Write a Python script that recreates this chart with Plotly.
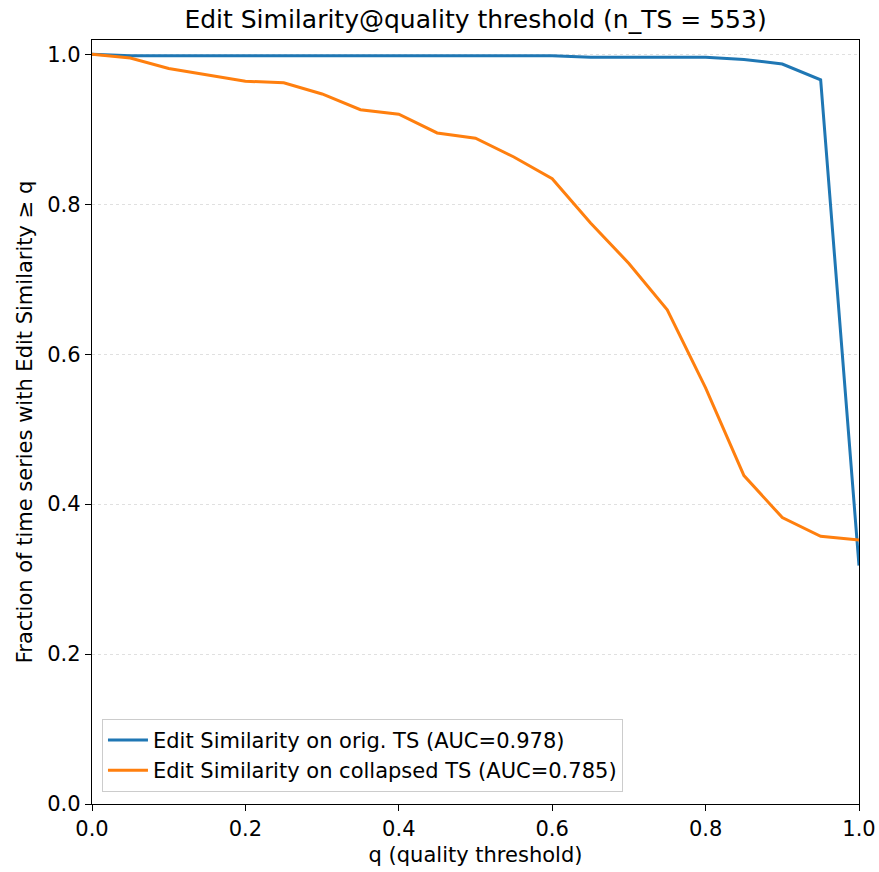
import plotly.graph_objects as go

# Quality thresholds q and fraction of series with Edit Similarity >= q
q = [0.0, 0.05, 0.1, 0.15, 0.2, 0.25, 0.3, 0.35, 0.4, 0.45, 0.5,
     0.55, 0.6, 0.65, 0.7, 0.75, 0.8, 0.85, 0.9, 0.95, 1.0]
orig_ts = [1.0, 0.998, 0.998, 0.998, 0.998, 0.998, 0.998, 0.998, 0.998, 0.998, 0.998,
           0.998, 0.998, 0.996, 0.996, 0.996, 0.996, 0.993, 0.987, 0.966, 0.318]
collapsed_ts = [1.0, 0.995, 0.981, 0.973, 0.964, 0.962, 0.947, 0.926, 0.920, 0.895, 0.888,
                0.863, 0.834, 0.775, 0.721, 0.659, 0.555, 0.438, 0.382, 0.357, 0.352]
series_names = ["Edit Similarity on orig. TS (AUC=0.978)",
                "Edit Similarity on collapsed TS (AUC=0.785)"]
series_colors = ["#1f77b4", "#ff7f0e"]
ticks = [0.0, 0.2, 0.4, 0.6, 0.8, 1.0]

FONT = "DejaVu Sans"

fig = go.Figure()
for name, ys, color in zip(series_names, [orig_ts, collapsed_ts], series_colors):
    fig.add_trace(go.Scatter(x=q, y=ys, mode="lines", name=name,
                             line=dict(color=color, width=3)))

axis_common = dict(
    showline=True, linecolor="black", linewidth=1.3, mirror=True,
    ticks="outside", ticklen=6, tickwidth=1.3, tickcolor="black",
    tickfont=dict(family=FONT, size=21, color="black"),
    zeroline=False, tickvals=ticks, tickformat=".1f", automargin=False,
)

fig.update_layout(
    width=879, height=872,
    margin=dict(l=92, r=20, t=40, b=68),
    paper_bgcolor="white", plot_bgcolor="white",
    font=dict(family=FONT, size=21, color="black"),
    title=dict(text="Edit Similarity@quality threshold (n_TS = 553)",
               x=0.541, xanchor="center", y=1 - 19 / 872, yanchor="middle",
               yref="container", font=dict(family=FONT, size=25, color="black")),
    xaxis=dict(range=[0, 1], showgrid=False,
               title=dict(text="q (quality threshold)", standoff=6,
                          font=dict(family=FONT, size=21)),
               **axis_common),
    yaxis=dict(range=[0, 1.019], showgrid=True, gridcolor="#e0e0e0",
               griddash="dot", gridwidth=1,
               title=dict(text="Fraction of time series with Edit Similarity ≥ q",
                          standoff=8, font=dict(family=FONT, size=21)),
               **axis_common),
    legend=dict(x=0.013, y=0.016, xanchor="left", yanchor="bottom",
                bgcolor="rgba(255,255,255,0.8)", bordercolor="#cccccc", borderwidth=1,
                font=dict(family=FONT, size=21), tracegroupgap=0,
                itemwidth=40),
    showlegend=True,
)

fig.write_html("out.html")
